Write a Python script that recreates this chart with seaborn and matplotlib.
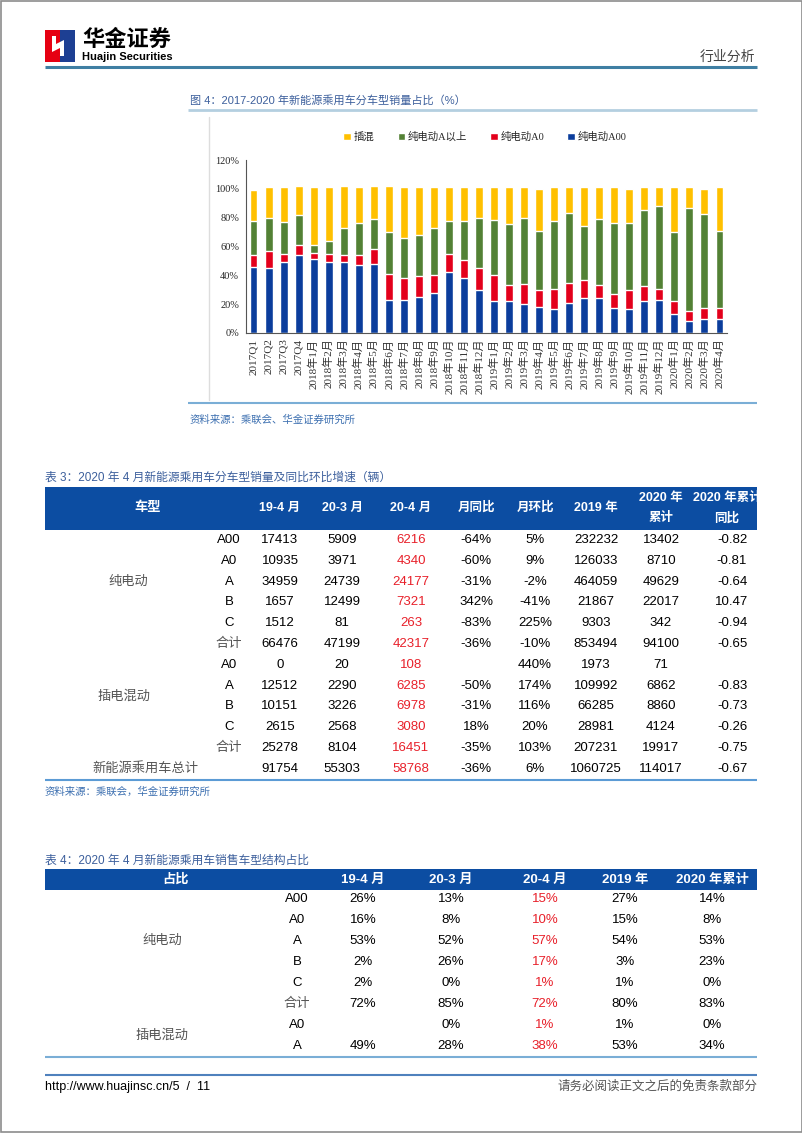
import numpy as np
import seaborn as sns
import matplotlib.pyplot as plt
from matplotlib.patches import Rectangle, Polygon

# chart data: share of each segment (%)
periods = ['2017Q1', '2017Q2', '2017Q3', '2017Q4',
           '2018年1月', '2018年2月', '2018年3月', '2018年4月', '2018年5月', '2018年6月',
           '2018年7月', '2018年8月', '2018年9月', '2018年10月', '2018年11月', '2018年12月',
           '2019年1月', '2019年2月', '2019年3月', '2019年4月', '2019年5月', '2019年6月',
           '2019年7月', '2019年8月', '2019年9月', '2019年10月', '2019年11月', '2019年12月',
           '2020年1月', '2020年2月', '2020年3月', '2020年4月']
bev_a00 = [46, 45, 49, 54, 51, 49, 49, 47, 48, 23, 23, 25, 27.5, 42.5, 38, 30,
           22.5, 22, 20, 18, 16.5, 20.5, 24.5, 24, 17.5, 16.5, 22, 23, 13.5, 8, 10, 9.5]
bev_a0 = [8, 12, 6, 7, 4.5, 6, 5, 7, 10.5, 18, 15, 14.5, 12.5, 12, 12.5, 15,
          17.5, 11, 14, 12, 14, 14.5, 12.5, 9.5, 9.5, 13, 10.5, 7.5, 8.5, 7, 7, 7.5]
bev_a_up = [24, 23, 22, 21, 5.5, 9, 19, 22, 20.5, 29, 28, 28.5, 33, 23.5, 27.5, 35,
            38.5, 42.5, 46, 41, 47.5, 48.5, 37, 45.5, 49, 46.5, 52.5, 57.5, 48, 72, 65.5, 54]
phev = [21.5, 21, 24, 20, 40, 37, 29, 25, 23, 32, 35, 33, 28, 23, 23, 21,
        22.5, 25.5, 21, 29, 23, 17.5, 27, 22, 25, 24, 16, 13, 31, 14, 17.5, 30]

# table 3
t3_rows = ['A00', 'A0', 'A', 'B', 'C', '合计', 'A0', 'A', 'B', 'C', '合计', '']
t3_head = ['19-4 月', '20-3 月', '20-4 月', '月同比', '月环比', '2019 年', '2020 年\n累计', '2020 年累计\n同比']
t3_194 = [17413, 10935, 34959, 1657, 1512, 66476, 0, 12512, 10151, 2615, 25278, 91754]
t3_203 = [5909, 3971, 24739, 12499, 81, 47199, 20, 2290, 3226, 2568, 8104, 55303]
t3_204 = [6216, 4340, 24177, 7321, 263, 42317, 108, 6285, 6978, 3080, 16451, 58768]
t3_yoy = ['-64%', '-60%', '-31%', '342%', '-83%', '-36%', '', '-50%', '-31%', '18%', '-35%', '-36%']
t3_mom = ['5%', '9%', '-2%', '-41%', '225%', '-10%', '440%', '174%', '116%', '20%', '103%', '6%']
t3_2019 = [232232, 126033, 464059, 21867, 9303, 853494, 1973, 109992, 66285, 28981, 207231, 1060725]
t3_cum = [13402, 8710, 49629, 22017, 342, 94100, 71, 6862, 8860, 4124, 19917, 114017]
t3_cumyoy = ['-0.82', '-0.81', '-0.64', '10.47', '-0.94', '-0.65', '', '-0.83', '-0.73', '-0.26', '-0.75', '-0.67']

# table 4
t4_rows = ['A00', 'A0', 'A', 'B', 'C', '合计', 'A0', 'A']
t4_head = ['19-4 月', '20-3 月', '20-4 月', '2019 年', '2020 年累计']
t4_194 = ['26%', '16%', '53%', '2%', '2%', '72%', '', '49%']
t4_203 = ['13%', '8%', '52%', '26%', '0%', '85%', '0%', '28%']
t4_204 = ['15%', '10%', '57%', '17%', '1%', '72%', '1%', '38%']
t4_2019 = ['27%', '15%', '54%', '3%', '1%', '80%', '1%', '53%']
t4_2020 = ['14%', '8%', '53%', '23%', '0%', '83%', '0%', '34%']

sns.set_style('white')
plt.rcParams['font.family'] = ['Liberation Sans', 'Noto Sans CJK SC']
SERIF = ['Liberation Serif', 'Noto Sans CJK SC']

W, H = 802, 1133
fig = plt.figure(figsize=(W / 100, H / 100), dpi=100)
pg = fig.add_axes([0, 0, 1, 1])
pg.set_xlim(0, W)
pg.set_ylim(H, 0)
pg.axis('off')

BLUE_HDR = '#0c4da2'
TITLE_C = '#3c5f9c'
RED_TXT = '#e8202a'

def txt(x, y, s, size=9.5, color='black', ha='center', **kw):
    pg.text(x, y, s, fontsize=size, color=color, ha=ha, va='center', **kw)

def hline(y, x0, x1, color, lw):
    pg.plot([x0, x1], [y, y], color=color, lw=lw, solid_capstyle='butt')

# page frame
pg.add_patch(Rectangle((0.5, 0.5), W - 1, H - 1.5, fill=False, ec='#8c8c8c', lw=1.2))

# logo and header
pg.add_patch(Rectangle((45, 30), 15, 32, color='#e60012', lw=0))
pg.add_patch(Rectangle((60, 30), 15, 32, color='#1d3f93', lw=0))
pg.add_patch(Polygon([(52, 36), (56, 36), (56, 44), (64, 40), (64, 56), (60, 56), (60, 48), (52, 52)],
                     closed=True, color='white', lw=0))
txt(82, 40, '华金证券', size=16, ha='left', fontweight='bold')
txt(82, 57, 'Huajin Securities', size=8, ha='left', fontweight='bold')
txt(755, 57, '行业分析', size=10, ha='right', color='#444444')
hline(67, 45, 757, '#3f7fa3', 2.2)

# figure title
txt(190, 100, '图 4：2017-2020 年新能源乘用车分车型销量占比（%）', size=8, ha='left', color=TITLE_C)
hline(110, 188, 757, '#b4cfe0', 2)
pg.plot([209, 209], [117, 400], color='#dddddd', lw=1)
hline(403, 188, 757, '#7aaed6', 1.5)
txt(190, 420, '资料来源：乘联会、华金证券研究所', size=7.5, ha='left', color='#3c6fb0', style='italic')

# stacked bar chart
ax = fig.add_axes([246 / W, (H - 333) / H, 481 / W, 173 / H])
c1 = np.array(bev_a00)
c2 = c1 + np.array(bev_a0)
c3 = c2 + np.array(bev_a_up)
c4 = c3 + np.array(phev)
layers = [(c4, '#ffc000', '插混'), (c3, '#538135', '纯电动A以上'),
          (c2, '#e3001b', '纯电动A0'), (c1, '#0b3d9c', '纯电动A00')]
for vals, col, name in layers:
    sns.barplot(x=periods, y=vals, color=col, width=0.53, saturation=1, ax=ax, label=name)
ax.set_xlim(-0.5, len(periods) - 0.5)
ax.set_ylim(0, 120)
ax.set_yticks(range(0, 121, 20))
ax.set_yticklabels([f'{v}%' for v in range(0, 121, 20)], family=SERIF, fontsize=7.5)
ax.set_xticks(range(len(periods)))
ax.set_xticklabels(periods, rotation=90, family=SERIF, fontsize=8, color='#333333')
ax.set_xticks(np.arange(-0.5, len(periods), 1), minor=True)
ax.tick_params(axis='x', which='major', length=0, pad=4)
ax.tick_params(axis='x', which='minor', length=3, color='#555555', direction='out')
ax.tick_params(axis='y', length=3, color='#555555', direction='out', pad=2)
ax.set_xlabel('')
ax.set_ylabel('')
for s in ['top', 'right']:
    ax.spines[s].set_visible(False)
for s in ['left', 'bottom']:
    ax.spines[s].set_color('#555555')
    ax.spines[s].set_linewidth(0.8)
ax.legend(loc='center', bbox_to_anchor=(0.497, 1.133), ncol=4, frameon=False,
          handlelength=0.7, handleheight=0.7, handletextpad=0.3, columnspacing=2.2,
          prop={'family': SERIF, 'size': 7.5})

# table 3
txt(45, 478, '表 3：2020 年 4 月新能源乘用车分车型销量及同比环比增速（辆）', size=8.5, ha='left', color=TITLE_C)
pg.add_patch(Rectangle((45, 487), 712, 43, color=BLUE_HDR, lw=0))
t3_x = [280, 342, 411, 476, 535, 596, 661, 732]
t3_hx = [280, 342, 411, 476, 535, 596, 661, 727]
txt(148, 508, '车型', color='white', fontweight='bold')
for x, h in zip(t3_hx, t3_head):
    txt(x, 508, h, size=9, color='white', fontweight='bold', linespacing=1.9)
row_y = [540 + 20.8 * i for i in range(len(t3_rows))]
cols3 = [t3_194, t3_203, t3_204, t3_yoy, t3_mom, t3_2019, t3_cum, t3_cumyoy]
for i, y in enumerate(row_y):
    lab = t3_rows[i]
    txt(229, y, lab, color='#555555' if lab == '合计' else 'black')
    for j, col in enumerate(cols3):
        txt(t3_x[j], y, str(col[i]), color=RED_TXT if j == 2 else 'black')
txt(128, row_y[2], '纯电动', color='#555555')
txt(124, (row_y[7] + row_y[8]) / 2, '插电混动', color='#555555')
txt(145, row_y[11], '新能源乘用车总计', color='#555555')
hline(780, 45, 757, '#5b9bd5', 1.5)
txt(45, 792, '资料来源：乘联会，华金证券研究所', size=7.5, ha='left', color='#3c6fb0', style='italic')

# table 4
txt(45, 861, '表 4：2020 年 4 月新能源乘用车销售车型结构占比', size=8.5, ha='left', color=TITLE_C)
pg.add_patch(Rectangle((45, 869), 712, 21, color=BLUE_HDR, lw=0))
t4_x = [363, 451, 545, 625, 712]
txt(175, 879.5, '占比', color='white', fontweight='bold')
for x, h in zip(t4_x, t4_head):
    txt(x, 879.5, h, color='white', fontweight='bold')
row4_y = [899 + 21 * i for i in range(len(t4_rows))]
cols4 = [t4_194, t4_203, t4_204, t4_2019, t4_2020]
for i, y in enumerate(row4_y):
    lab = t4_rows[i]
    txt(297, y, lab, color='#555555' if lab == '合计' else 'black')
    for j, col in enumerate(cols4):
        txt(t4_x[j], y, col[i], color=RED_TXT if j == 2 else 'black')
txt(162, row4_y[2], '纯电动', color='#555555')
txt(162, (row4_y[6] + row4_y[7]) / 2, '插电混动', color='#555555')
hline(1057, 45, 757, '#7aaed6', 1.5)

# footer
hline(1075, 45, 757, '#4f81bd', 1.5)
txt(45, 1087, 'http://www.huajinsc.cn/5  /  11', size=9, ha='left')
txt(757, 1087, '请务必阅读正文之后的免责条款部分', size=9, ha='right', color='#555555')

fig.savefig('out.png', dpi=100)
